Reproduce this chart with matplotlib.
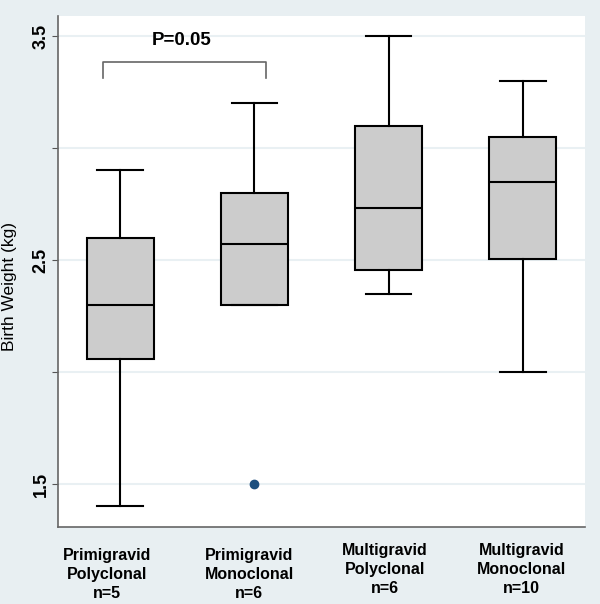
import matplotlib
matplotlib.use("Agg")
import matplotlib.pyplot as plt

# Box statistics (birth weight, kg)
groups = ["Primigravid\nPolyclonal\nn=5", "Primigravid\nMonoclonal\nn=6",
          "Multigravid\nPolyclonal\nn=6", "Multigravid\nMonoclonal\nn=10"]
whislo = [1.40, 2.30, 2.35, 2.00]
q1 = [2.06, 2.30, 2.455, 2.505]
med = [2.30, 2.57, 2.73, 2.85]
q3 = [2.60, 2.80, 3.10, 3.05]
whishi = [2.90, 3.20, 3.50, 3.30]
fliers = [[], [1.50], [], []]
grid_vals = [1.5, 2.0, 2.5, 3.0, 3.5]
tick_text = ["1.5", "", "2.5", "", "3.5"]
p_text = "P=0.05"

bg = "#e8eff2"
plt.rcParams["font.family"] = ["Liberation Sans", "DejaVu Sans"]

fig = plt.figure(figsize=(6.0, 6.04), dpi=100, facecolor=bg)
ax = fig.add_axes([0.0967, 0.1275, 0.8783, 0.846])
ax.set_facecolor("white")

stats = []
for i in range(len(groups)):
    stats.append(dict(whislo=whislo[i], q1=q1[i], med=med[i], q3=q3[i],
                      whishi=whishi[i], fliers=fliers[i]))

ax.bxp(stats, positions=[1, 2, 3, 4], widths=0.5, patch_artist=True,
       capwidths=0.34,
       boxprops=dict(facecolor="#cccccc", edgecolor="black", linewidth=1.5),
       medianprops=dict(color="black", linewidth=1.5),
       whiskerprops=dict(color="black", linewidth=1.5),
       capprops=dict(color="black", linewidth=1.5),
       flierprops=dict(marker="o", markerfacecolor="#1c4f7f",
                       markeredgecolor="#1c4f7f", markersize=6))

# very light horizontal grid
for g in grid_vals:
    ax.axhline(g, color="#e9f0f3", linewidth=1.5, zorder=0)

ax.set_xlim(0.537, 4.463)
ax.set_ylim(1.308, 3.589)
ax.set_yticks(grid_vals)
ax.set_yticklabels(tick_text, rotation=90, va="center", fontsize=13,
                   fontweight="bold")
ax.tick_params(axis="y", direction="out", length=4, color="#555555", pad=2)
ax.set_xticks([])
ax.set_ylabel("Birth Weight (kg)", fontsize=12.5)
ax.yaxis.set_label_coords(-0.077, 0.47)

for side in ["top", "right"]:
    ax.spines[side].set_visible(False)
for side in ["left", "bottom"]:
    ax.spines[side].set_color("#666666")
    ax.spines[side].set_linewidth(1.2)

# group labels under the axis
label_x = [0.90, 1.96, 2.97, 3.99]
label_y = [-0.042, -0.042, -0.032, -0.032]
for i, txt in enumerate(groups):
    ax.text(label_x[i], label_y[i], txt, transform=ax.get_xaxis_transform(),
            ha="center", va="top", fontsize=11.5, fontweight="bold",
            linespacing=1.32)

# significance bracket
ax.plot([0.87, 0.87, 2.09, 2.09], [3.3125, 3.384, 3.384, 3.3125],
        color="#666666", linewidth=1.2)
ax.text(1.46, 3.44, p_text, ha="center", va="bottom", fontsize=13.5,
        fontweight="bold")

fig.savefig("out.png", dpi=100, facecolor=bg)
